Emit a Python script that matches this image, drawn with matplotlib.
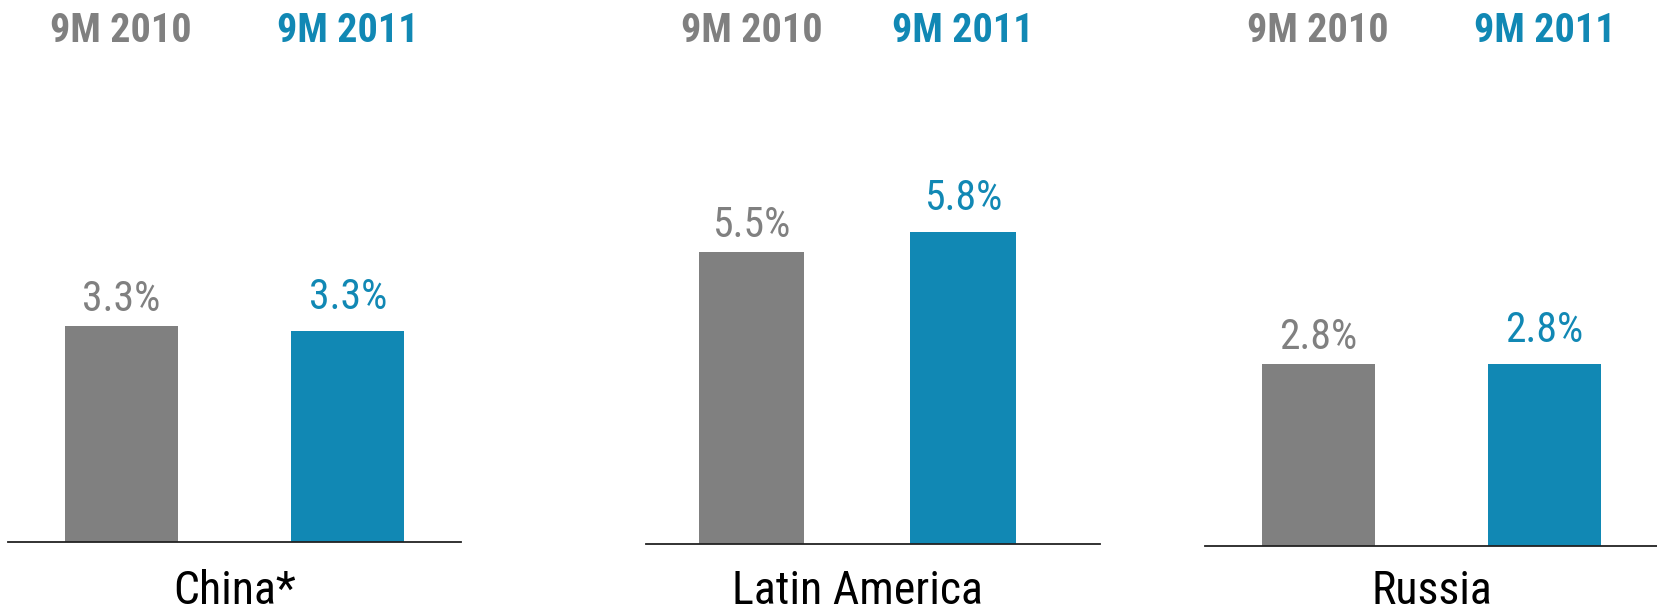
import matplotlib as mpl
import matplotlib.pyplot as plt

mpl.rcParams['font.family'] = ['Roboto Condensed', 'Archivo Narrow', 'DejaVu Sans']

regions = ["China*", "Latin America", "Russia"]
periods = ["9M 2010", "9M 2011"]
vals_2010 = [3.34, 5.46, 2.8]
vals_2011 = [3.26, 5.84, 2.8]

GRAY = '#808080'
BLUE = '#1188B4'
W, H = 1658, 613

# axes placement in pixels: left, right, baseline y (from top), px per unit, xlim right
panels = [
    (8, 461, 542, 64.6, 1.50),
    (646, 1100, 543.5, 53.3, 1.65),
    (1205, 1658, 546, 65.0, 1.50),
]

fig = plt.figure(figsize=(W / 100, H / 100), dpi=100)

for i, (x0, x1, base, scale, xr) in enumerate(panels):
    ax = fig.add_axes([x0 / W, (H - base) / H, (x1 - x0) / W, base / H])
    ax.set_xlim(-0.5, xr)
    ax.set_ylim(0, base / scale)
    vals = [vals_2010[i], vals_2011[i]]
    bars = ax.bar([0, 1], vals, width=0.5, color=[GRAY, BLUE])
    for j, (b, v) in enumerate(zip(bars, vals)):
        col = GRAY if j == 0 else BLUE
        off = 11 if j == 0 else 16
        ax.annotate("{:.1f}%".format(v), (j, v), xytext=(0, off),
                    textcoords='offset points', ha='center', va='baseline',
                    fontsize=30, color=col)
        ax.annotate(periods[j], (j, H - 42), xycoords=('data', 'figure pixels'),
                    ha='center', va='baseline', fontsize=29, fontweight='bold',
                    color=col)
    ax.annotate(regions[i], (0.5, 9), xycoords=('data', 'figure pixels'),
                ha='center', va='baseline', fontsize=33, color='black')
    for s in ['top', 'left', 'right']:
        ax.spines[s].set_visible(False)
    ax.spines['bottom'].set_linewidth(1.3)
    ax.spines['bottom'].set_color('#222222')
    ax.set_xticks([])
    ax.set_yticks([])
    ax.patch.set_alpha(0)

fig.savefig('out.png', dpi=100)
